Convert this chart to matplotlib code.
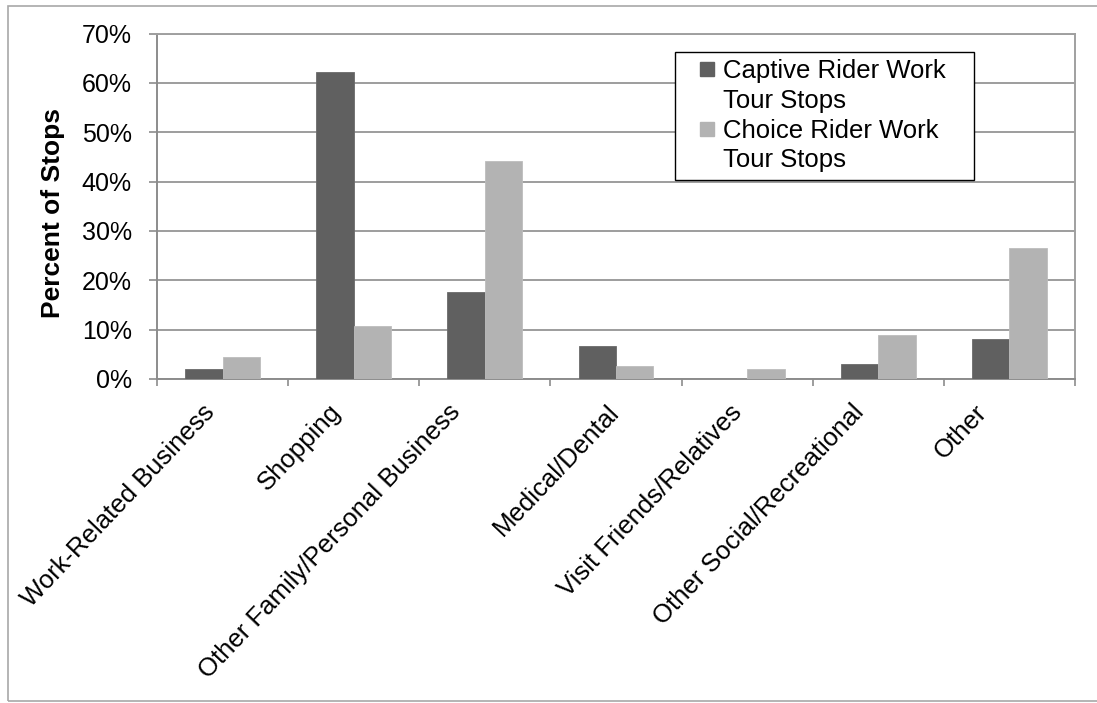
import matplotlib
matplotlib.use('Agg')
import matplotlib.pyplot as plt
import matplotlib.patches as mpatches
import matplotlib.transforms as mtransforms
from matplotlib.lines import Line2D
from matplotlib.ticker import FuncFormatter, FixedLocator
import numpy as np

categories = ['Work-Related Business', 'Shopping', 'Other Family/Personal Business',
			  'Medical/Dental', 'Visit Friends/Relatives', 'Other Social/Recreational', 'Other']
captive = [2.1, 62.2, 17.6, 6.6, 0.0, 3.0, 8.2]
choice = [4.5, 10.8, 44.2, 2.7, 2.0, 8.9, 26.6]
series_labels = ['Captive Rider Work\nTour Stops', 'Choice Rider Work\nTour Stops']
colors = ['#606060', '#b3b3b3']
yticks = [0, 10, 20, 30, 40, 50, 60, 70]

plt.rcParams['font.family'] = ['Liberation Sans', 'DejaVu Sans']

W, H = 1097, 703
fig = plt.figure(figsize=(W / 100, H / 100), dpi=100)
# plot area in pixels: left 157, right 1075, top 33.5, bottom 379
ax = fig.add_axes([157 / W, 1 - 379 / H, (1075 - 157) / W, (379 - 33.5) / H])

# outer chart border
fig.patches.append(mpatches.Rectangle((8 / W, 2 / H), 1.2, 1 - 8 / H, transform=fig.transFigure,
									  fill=False, edgecolor='#a8a8a8', linewidth=1.2))

x = np.arange(len(categories))
w = 1 / 3.5
ax.bar(x - w / 2, captive, w, color=colors[0], edgecolor='#6a6a6a', linewidth=0.6, zorder=3)
ax.bar(x + w / 2, choice, w, color=colors[1], edgecolor='#bdbdbd', linewidth=0.6, zorder=3)

ax.set_xlim(-0.5, len(categories) - 0.5)
ax.set_ylim(0, 70)
ax.set_yticks(yticks)
ax.yaxis.set_major_formatter(FuncFormatter(lambda v, p: '{:.0f}%'.format(v)))
ax.yaxis.grid(True, color='#8c8c8c', linewidth=1.2, zorder=0)
ax.set_axisbelow(True)

ax.set_xticks(x)
ax.set_xticklabels(categories, rotation=46.5, ha='right', va='center', rotation_mode='anchor', fontsize=18.5)
ax.xaxis.set_minor_locator(FixedLocator(np.arange(-0.5, len(categories), 1)))
ax.tick_params(axis='x', which='major', length=0, pad=21)
ax.tick_params(axis='x', which='minor', length=5, width=1.2, color='#8c8c8c', direction='out')
ax.tick_params(axis='y', length=6, width=1.2, color='#8c8c8c', labelsize=18, pad=12)

# nudge the rotated labels the way the original layout has them
label_shift = [-12, -17, -29, -1, -9, -18, -27]
for lbl, dx in zip(ax.get_xticklabels(), label_shift):
	lbl.set_transform(lbl.get_transform() + mtransforms.ScaledTranslation(dx / 100, 0, fig.dpi_scale_trans))

for s in ['left', 'right', 'top', 'bottom']:
	ax.spines[s].set_color('#8c8c8c')
	ax.spines[s].set_linewidth(1.4)
ax.spines['top'].set_color('#a0a0a0')
ax.spines['right'].set_color('#a0a0a0')

ax.set_ylabel('Percent of Stops', fontsize=19, fontweight='bold')
ax.yaxis.set_label_coords(-0.1, 0.48)

# legend, first line of each label carries the marker
handles = [Line2D([], [], marker='s', linestyle='none', markersize=9.5, color=colors[0]),
		   Line2D([], [], linestyle='none'),
		   Line2D([], [], marker='s', linestyle='none', markersize=9.5, color=colors[1]),
		   Line2D([], [], linestyle='none')]
labels = []
for lab in series_labels:
	labels.extend(lab.split('\n'))
x0, y1 = 675 / W, 1 - 51.7 / H
x1, y0 = 974 / W, 1 - 177.7 / H
leg = fig.legend(handles, labels, loc='upper left', bbox_to_anchor=(x0, y0, x1 - x0, y1 - y0),
				 mode='expand', borderaxespad=0, fontsize=18.5, frameon=True, fancybox=False,
				 edgecolor='black', framealpha=1, borderpad=0.3, labelspacing=0.22,
				 handlelength=1.9, handletextpad=-0.35)
leg.get_frame().set_linewidth(1.0)

fig.savefig('out.png', dpi=100)
